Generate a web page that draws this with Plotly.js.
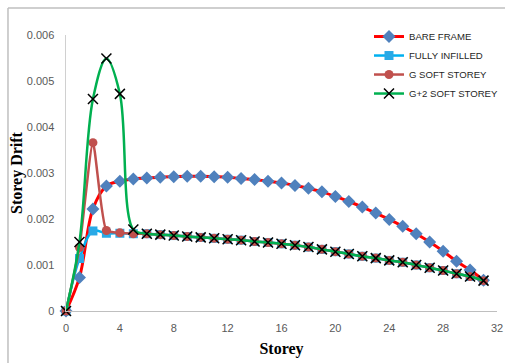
<!DOCTYPE html>
<html>
<head>
<meta charset="utf-8">
<script src="https://cdn.plot.ly/plotly-3.0.1.min.js"></script>
<style>
html,body{margin:0;padding:0;background:#fff;}
#chart{width:505px;height:363px;}
</style>
</head>
<body>
<div id="chart"></div>
<script>
const storeys = [0,1,2,3,4,5,6,7,8,9,10,11,12,13,14,15,16,17,18,19,20,21,22,23,24,25,26,27,28,29,30,31];
const bareFrame = [0, 0.00073, 0.00222, 0.00272, 0.00282, 0.00287, 0.00289, 0.00291, 0.00292, 0.00293, 0.00293, 0.00292, 0.00291, 0.00288, 0.00286, 0.00282, 0.00278, 0.00273, 0.00267, 0.00259, 0.00249, 0.00238, 0.00226, 0.00213, 0.00199, 0.00184, 0.00168, 0.0015, 0.0013, 0.00108, 0.00089, 0.00067];
const fullyInfilled = [0, 0.00114, 0.00174, 0.00169, 0.00169, 0.00168, 0.00168, 0.00166, 0.00164, 0.00162, 0.00160, 0.00158, 0.00156, 0.00154, 0.00151, 0.00149, 0.00146, 0.00143, 0.00139, 0.00134, 0.00129, 0.00124, 0.00119, 0.00115, 0.00110, 0.00106, 0.00100, 0.00094, 0.00088, 0.00081, 0.00075, 0.00066];
const gSoftStorey = [0, 0.00138, 0.00366, 0.00175, 0.00170, 0.00168, 0.00168, 0.00166, 0.00164, 0.00162, 0.00160, 0.00158, 0.00156, 0.00154, 0.00151, 0.00149, 0.00146, 0.00143, 0.00139, 0.00134, 0.00129, 0.00124, 0.00119, 0.00115, 0.00110, 0.00106, 0.00100, 0.00094, 0.00088, 0.00081, 0.00075, 0.00066];
const g2SoftStorey = [0, 0.00150, 0.00461, 0.00549, 0.00472, 0.00177, 0.00168, 0.00166, 0.00164, 0.00162, 0.00160, 0.00158, 0.00156, 0.00154, 0.00151, 0.00149, 0.00146, 0.00143, 0.00139, 0.00134, 0.00129, 0.00124, 0.00119, 0.00115, 0.00110, 0.00106, 0.00100, 0.00094, 0.00088, 0.00081, 0.00075, 0.00066];
const seriesNames = ["BARE FRAME", "FULLY INFILLED", "G SOFT STOREY", "G+2 SOFT STOREY"];
const xTicks = [0,4,8,12,16,20,24,28,32];
const yTicks = [0,0.001,0.002,0.003,0.004,0.005,0.006];
const yTickText = ["0","0.001","0.002","0.003","0.004","0.005","0.006"];

const traces = [
  {x: storeys, y: bareFrame, name: seriesNames[0], mode: "lines+markers", cliponaxis: false,
   line: {color: "#FF0000", width: 3, shape: "spline", smoothing: 1},
   marker: {symbol: "diamond", size: 10, color: "#4F81BD"}},
  {x: storeys, y: fullyInfilled, name: seriesNames[1], mode: "lines+markers", cliponaxis: false,
   line: {color: "#00B0F0", width: 2.5, shape: "spline", smoothing: 1},
   marker: {symbol: "square", size: 9, color: "#2AA9E6"}},
  {x: storeys, y: gSoftStorey, name: seriesNames[2], mode: "lines+markers", cliponaxis: false,
   line: {color: "#C0504D", width: 2.5, shape: "spline", smoothing: 0.5},
   marker: {symbol: "circle", size: 9, color: "#C0504D"}},
  {x: storeys, y: g2SoftStorey, name: seriesNames[3], mode: "lines+markers", cliponaxis: false,
   line: {color: "#00B050", width: 2.5, shape: "spline", smoothing: 1},
   marker: {symbol: "x-thin", size: 10, color: "#000000", line: {color: "#000000", width: 1.5}}}
];

const layout = {
  width: 505, height: 363,
  margin: {l: 66, r: 8, t: 35, b: 52, pad: 0, autoexpand: false},
  paper_bgcolor: "#ffffff", plot_bgcolor: "#ffffff",
  font: {family: "Liberation Sans, Arial, sans-serif", size: 11, color: "#595959"},
  showlegend: true,
  legend: {x: 0.703, y: 1.047, xanchor: "left", yanchor: "top", bgcolor: "rgba(0,0,0,0)",
           font: {family: "Liberation Sans, Arial, sans-serif", size: 9.6, color: "#262626"},
           tracegroupgap: 0},
  xaxis: {range: [0, 32], tickvals: xTicks, ticktext: xTicks.map(String), automargin: false,
          showline: true, linecolor: "#BFBFBF", linewidth: 1, showgrid: false, zeroline: false,
          ticks: "outside", ticklen: 7, tickcolor: "rgba(0,0,0,0)",
          tickfont: {size: 11, color: "#595959"},
          title: {text: "Storey", font: {family: "Liberation Serif, Times New Roman, serif", size: 16, color: "#000000", weight: "bold"}, standoff: 9}},
  yaxis: {range: [0, 0.006], tickvals: yTicks, ticktext: yTickText, automargin: false,
          showline: true, linecolor: "#D0D0D0", linewidth: 1.5, showgrid: false, zeroline: false,
          ticks: "outside", ticklen: 8, tickcolor: "rgba(0,0,0,0)",
          tickfont: {size: 11, color: "#595959"},
          title: {text: "Storey Drift", font: {family: "Liberation Serif, Times New Roman, serif", size: 16, color: "#000000", weight: "bold"}, standoff: 0}},
  shapes: [
    {type: "line", xref: "paper", yref: "paper", x0: -0.1346, x1: -0.1346, y0: -0.25, y1: 1.0976, line: {color: "#BFBFBF", width: 1.5}},
    {type: "line", xref: "paper", yref: "paper", x0: -0.1346, x1: 1.03, y0: 1.0976, y1: 1.0976, line: {color: "#BFBFBF", width: 1.5}}
  ]
};

Plotly.newPlot("chart", traces, layout, {staticPlot: true, displayModeBar: false});
</script>
</body>
</html>
